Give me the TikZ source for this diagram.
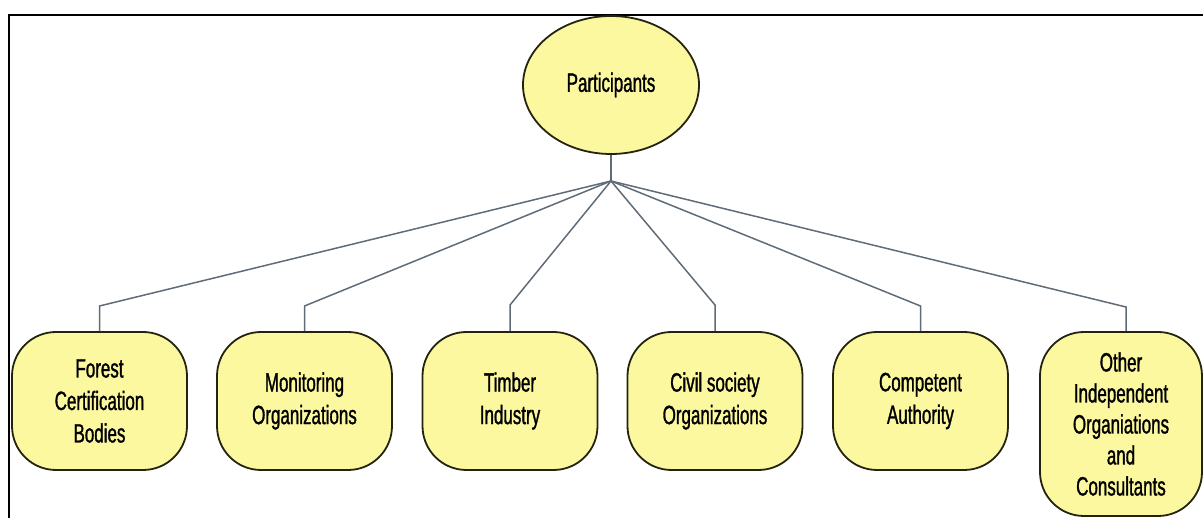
\documentclass[tikz,border=0pt]{standalone}
\usepackage{fontspec}
\setmainfont{Liberation Sans}[FakeStretch=0.64,FakeBold=1.1]
\usetikzlibrary{shapes.geometric}
\definecolor{boxfill}{RGB}{252,248,160}
\definecolor{boxline}{RGB}{35,35,15}
\definecolor{linkcol}{RGB}{95,108,120}
\tikzset{
  leaf/.style={draw=boxline, line width=1.8pt, fill=boxfill, rounded corners=44pt,
    minimum width=175pt, minimum height=138pt, align=center, inner sep=2pt,
    font=\fontsize{26.5}{32.5}\selectfont},
  root/.style={draw=boxline, line width=1.8pt, fill=boxfill, ellipse,
    minimum width=176pt, minimum height=138pt, inner sep=0pt,
    font=\fontsize{26.5}{32.5}\selectfont},
  link/.style={draw=linkcol, line width=1.5pt},
}
\begin{document}
\begin{tikzpicture}[x=1pt,y=-1pt]
\useasboundingbox (0,0) rectangle (1203,518);
\draw[line width=2.4pt, black] (9,520) -- (9,15) -- (1205,15);
\node[root] (p) at (611,85) {Participants};
\coordinate (j) at (611,181);
\node[leaf] (b1) at (99.5,401) {Forest\\Certification\\Bodies};
\node[leaf] (b2) at (304.5,401) {Monitoring\\Organizations};
\node[leaf] (b3) at (510,401) {Timber\\Industry};
\node[leaf] (b4) at (715,401) {Civil society\\Organizations};
\node[leaf] (b5) at (920.5,401) {Competent\\Authority};
\node[leaf, minimum width=162pt, minimum height=184pt, font=\fontsize{26.5}{31}\selectfont] (b6) at (1121,424) {Other\\Independent\\Organiations\\and\\Consultants};
\coordinate (e1) at (99.5,306);
\coordinate (e2) at (304.5,306);
\coordinate (e3) at (510,305);
\coordinate (e4) at (715,305);
\coordinate (e5) at (920.5,306);
\coordinate (e6) at (1126,307);
\draw[link] (p.south) -- (j);
\draw[link] (j) -- (e1) -- (b1.north);
\draw[link] (j) -- (e2) -- (b2.north);
\draw[link] (j) -- (e3) -- (b3.north);
\draw[link] (j) -- (e4) -- (b4.north);
\draw[link] (j) -- (e5) -- (b5.north);
\draw[link] (j) -- (e6) -- (e6 |- b6.north);
\end{tikzpicture}
\end{document}
